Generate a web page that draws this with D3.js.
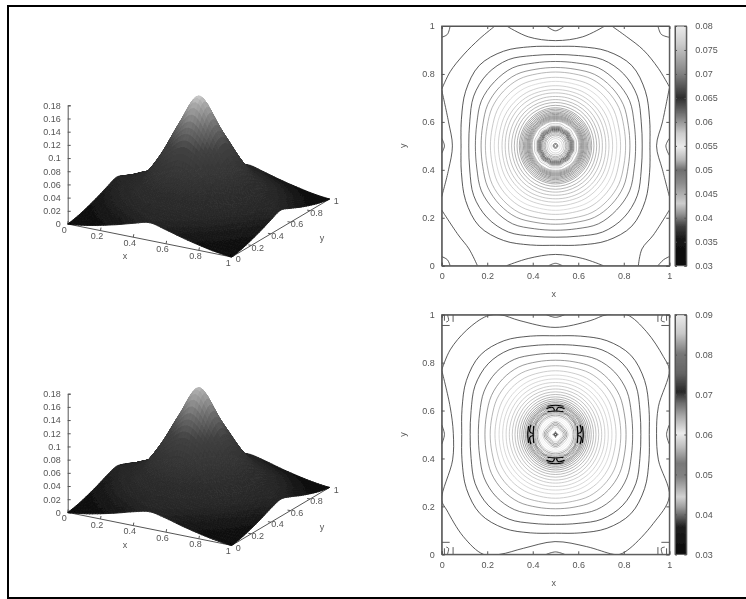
<!DOCTYPE html>
<meta charset="utf-8">
<style>
html, body { margin: 0; background: #fff; }
text { font: 9px "Liberation Sans", Arial, sans-serif; fill: #555; }
.domain, .tick line, .box { stroke: #555; fill: none; }
</style>
<body>
<script src="https://d3js.org/d3.v7.min.js"></script>
<script>

// quarter of the height field, rows y = 0..0.5, columns x = 0..0.5, step 0.1
var surfaceTop = [
  [0,     0.003, 0.008, 0.014, 0.021, 0.027],
  [0.003, 0.009, 0.017, 0.024, 0.031, 0.034],
  [0.008, 0.017, 0.026, 0.035, 0.043, 0.048],
  [0.014, 0.024, 0.035, 0.054, 0.074, 0.085],
  [0.021, 0.031, 0.043, 0.074, 0.112, 0.135],
  [0.027, 0.034, 0.048, 0.085, 0.135, 0.175]
];
var surfaceBottom = [
  [0,     0.003, 0.008, 0.014, 0.021, 0.026],
  [0.003, 0.009, 0.017, 0.024, 0.030, 0.033],
  [0.008, 0.017, 0.026, 0.034, 0.042, 0.047],
  [0.014, 0.024, 0.034, 0.053, 0.072, 0.083],
  [0.021, 0.030, 0.042, 0.072, 0.108, 0.130],
  [0.026, 0.033, 0.047, 0.083, 0.130, 0.170]
];
var surfaceGray = [[0, 8], [0.03, 40], [0.06, 48], [0.105, 65], [0.135, 110], [0.165, 170], [0.175, 205]];

var unitTicks = [0, 0.2, 0.4, 0.6, 0.8, 1];
var zTicks = [0, 0.02, 0.04, 0.06, 0.08, 0.1, 0.12, 0.14, 0.16, 0.18];
var barTicksTop = [0.03, 0.035, 0.04, 0.045, 0.05, 0.055, 0.06, 0.065, 0.07, 0.075, 0.08];
var barTicksBottom = [0.03, 0.04, 0.05, 0.06, 0.07, 0.08, 0.09];

// colour bars: value, gray
var barStopsTop = [[0.03, 10], [0.0353, 20], [0.0381, 60], [0.0409, 150], [0.043, 205], [0.0472, 140],
  [0.05, 110], [0.052, 180], [0.0548, 235], [0.0576, 205], [0.0618, 110], [0.065, 45], [0.0701, 130],
  [0.0764, 205], [0.08, 235]];
var barStopsBottom = [[0.03, 10], [0.0369, 30], [0.0419, 160], [0.0444, 210], [0.0494, 130], [0.0528, 120],
  [0.0569, 190], [0.0603, 235], [0.0645, 170], [0.0678, 110], [0.0707, 40], [0.0753, 100], [0.0803, 120],
  [0.0853, 200], [0.09, 235]];

// closed contours around the centre: level, radius at 0, 15, 30, 45 degrees
var ringsTop = [
  [0.034, 0.415, 0.428, 0.456, 0.474], [0.036, 0.381, 0.390, 0.415, 0.424],
  [0.038, 0.352, 0.358, 0.376, 0.379], [0.0395, 0.327, 0.331, 0.344, 0.347],
  [0.041, 0.308, 0.311, 0.321, 0.323], [0.042, 0.286, 0.288, 0.296, 0.298],
  [0.043, 0.269, 0.270, 0.276, 0.278], [0.044, 0.251, 0.252, 0.256, 0.257],
  [0.0445, 0.235, 0.236, 0.239, 0.240], [0.045, 0.221, 0.222, 0.224, 0.225],
  [0.0455, 0.206, 0.207, 0.208, 0.209], [0.046, 0.193, 0.193, 0.194, 0.195],
  [0.0465, 0.181, 0.181, 0.182, 0.182], [0.047, 0.169, 0.169, 0.169, 0.170],
  [0.0475, 0.159, 0.159, 0.159, 0.159], [0.048, 0.153, 0.153, 0.153, 0.153],
  [0.0485, 0.147, 0.147, 0.147, 0.147], [0.049, 0.141, 0.141, 0.141, 0.141],
  [0.0495, 0.136, 0.136, 0.136, 0.136], [0.05, 0.131, 0.131, 0.131, 0.131],
  [0.05, 0.126, 0.126, 0.126, 0.126], [0.05, 0.122, 0.122, 0.122, 0.122],
  [0.05, 0.118, 0.118, 0.118, 0.118], [0.05, 0.114, 0.114, 0.114, 0.114],
  [0.0505, 0.110, 0.110, 0.110, 0.110], [0.051, 0.106, 0.106, 0.106, 0.106],
  [0.0515, 0.102, 0.103, 0.102, 0.103], [0.052, 0.092, 0.094, 0.090, 0.094],
  [0.0576, 0.085, 0.087, 0.083, 0.087], [0.0618, 0.080, 0.082, 0.078, 0.082],
  [0.063, 0.076, 0.078, 0.074, 0.078], [0.064, 0.072, 0.074, 0.070, 0.074],
  [0.065, 0.068, 0.070, 0.066, 0.070], [0.066, 0.064, 0.066, 0.062, 0.066],
  [0.068, 0.060, 0.061, 0.059, 0.061], [0.07, 0.055, 0.056, 0.054, 0.056],
  [0.071, 0.050, 0.050, 0.049, 0.050], [0.072, 0.045, 0.045, 0.045, 0.045],
  [0.074, 0.038, 0.038, 0.038, 0.038], [0.076, 0.030, 0.030, 0.030, 0.030],
  [0.078, 0.020, 0.020, 0.020, 0.020], [0.066, 0.010, 0.010, 0.010, 0.010],
  [0.064, 0.006, 0.006, 0.006, 0.006]
];
var ringsBottom = [
  [0.034, 0.412, 0.425, 0.452, 0.468], [0.036, 0.375, 0.384, 0.408, 0.418],
  [0.038, 0.339, 0.345, 0.362, 0.368], [0.04, 0.310, 0.314, 0.325, 0.328],
  [0.0415, 0.287, 0.289, 0.297, 0.299], [0.043, 0.266, 0.267, 0.272, 0.274],
  [0.044, 0.248, 0.249, 0.252, 0.253], [0.045, 0.232, 0.233, 0.235, 0.236],
  [0.0455, 0.217, 0.218, 0.219, 0.220], [0.046, 0.203, 0.203, 0.204, 0.205],
  [0.0465, 0.190, 0.190, 0.191, 0.191], [0.047, 0.178, 0.178, 0.178, 0.179],
  [0.0475, 0.167, 0.167, 0.167, 0.167], [0.048, 0.157, 0.157, 0.157, 0.157],
  [0.049, 0.148, 0.148, 0.148, 0.148], [0.05, 0.140, 0.140, 0.140, 0.140],
  [0.051, 0.133, 0.133, 0.133, 0.133], [0.052, 0.127, 0.127, 0.127, 0.127],
  [0.0528, 0.122, 0.122, 0.122, 0.122], [0.0528, 0.118, 0.118, 0.118, 0.118],
  [0.0528, 0.114, 0.114, 0.114, 0.114], [0.0675, 0.110, 0.111, 0.107, 0.109],
  [0.0494, 0.105, 0.106, 0.102, 0.105], [0.0678, 0.101, 0.099, 0.097, 0.100],
  [0.0528, 0.097, 0.095, 0.099, 0.095], [0.0494, 0.092, 0.090, 0.094, 0.091],
  [0.0645, 0.087, 0.086, 0.087, 0.086], [0.0528, 0.081, 0.081, 0.081, 0.081],
  [0.0569, 0.075, 0.075, 0.075, 0.075], [0.0603, 0.069, 0.068, 0.067, 0.066],
  [0.0603, 0.063, 0.062, 0.060, 0.058], [0.0569, 0.056, 0.054, 0.052, 0.050],
  [0.0528, 0.050, 0.048, 0.045, 0.043], [0.0494, 0.044, 0.042, 0.040, 0.038],
  [0.0528, 0.038, 0.036, 0.033, 0.032], [0.0569, 0.031, 0.030, 0.028, 0.027],
  [0.0603, 0.024, 0.024, 0.023, 0.022], [0.0707, 0.012, 0.008, 0.006, 0.005],
  [0.0707, 0.006, 0.004, 0.003, 0.003]
];

// contours that end on the box, as x,y pairs
var openTop = [
  [[0, 0.736], [0.037, 0.809], [0.095, 0.879], [0.168, 0.948], [0.234, 1]],
  [[1, 0.747], [0.952, 0.823], [0.886, 0.9], [0.813, 0.955], [0.747, 1]],
  [[0, 0.232], [0.073, 0.128], [0.12, 0.07], [0.157, 0]],
  [[1, 0.232], [0.93, 0.128], [0.88, 0.07], [0.864, 0]],
  [[0.285, 1], [0.38, 0.955], [0.5, 0.939], [0.62, 0.955], [0.717, 1]],
  [[0.285, 0], [0.38, 0.03], [0.5, 0.047], [0.62, 0.03], [0.71, 0]],
  [[0, 0.733], [0.03, 0.6], [0.047, 0.5], [0.03, 0.4], [0, 0.288]],
  [[1, 0.74], [0.97, 0.6], [0.944, 0.5], [0.97, 0.4], [1, 0.29]],
  [[0, 0.531], [0.012, 0.5], [0, 0.469]],
  [[1, 0.531], [0.985, 0.5], [1, 0.46]],
  [[0.46, 1], [0.5, 0.98], [0.54, 1]],
  [[0.47, 0], [0.5, 0.01], [0.53, 0]],
  [[0, 0.953], [0.025, 0.965], [0.037, 1]],
  [[0.95, 1], [0.965, 0.965], [1, 0.953]],
  [[0, 0.038], [0.025, 0.025], [0.037, 0]],
  [[0.95, 0], [0.975, 0.025], [1, 0.038]]
];
var openBottom = [
  [[0, 0.769], [0.037, 0.853], [0.11, 0.936], [0.198, 0.994], [0.256, 1], [0.344, 0.975], [0.498, 0.947],
   [0.652, 0.975], [0.725, 1], [0.813, 1], [0.9, 0.929], [0.974, 0.825], [1, 0.769], [0.952, 0.616],
   [0.944, 0.505], [0.952, 0.394], [1, 0.241], [0.93, 0.129], [0.827, 0.025], [0.783, 0], [0.754, 0],
   [0.637, 0.032], [0.498, 0.053], [0.359, 0.025], [0.256, 0], [0.183, 0], [0.095, 0.074], [0.022, 0.185],
   [0, 0.227], [0.048, 0.394], [0.051, 0.505], [0.037, 0.616], [0, 0.769]],
  [[0, 0.54], [0.012, 0.5], [0, 0.46]],
  [[1, 0.54], [0.988, 0.5], [1, 0.46]],
  [[0.46, 1], [0.5, 0.989], [0.54, 1]],
  [[0.46, 0], [0.5, 0.01], [0.54, 0]],
  [[0.012, 1], [0.012, 0.975]], [[0.025, 1], [0.03, 0.975], [0.02, 0.97]], [[0.05, 1], [0.05, 0.97]], [[0, 0.955], [0.035, 0.955]],
  [[0.988, 1], [0.988, 0.975]], [[0.97, 1], [0.965, 0.975], [0.98, 0.97]], [[0.95, 1], [0.95, 0.97]], [[1, 0.955], [0.965, 0.955]],
  [[0.012, 0], [0.012, 0.025]], [[0.025, 0], [0.03, 0.025], [0.02, 0.03]], [[0.05, 0], [0.05, 0.03]], [[0, 0.05], [0.035, 0.05]],
  [[0.988, 0], [0.988, 0.025]], [[0.97, 0], [0.965, 0.025], [0.98, 0.03]], [[0.95, 0], [0.95, 0.03]], [[1, 0.05], [0.965, 0.05]]
];

// dark lobes of the lower map, offsets from the centre along one arm
var lobeLines = [
  [[-0.118, -0.035], [-0.122, 0], [-0.118, 0.035]],
  [[-0.108, -0.04], [-0.113, -0.012], [-0.1, -0.004]],
  [[-0.108, 0.04], [-0.113, 0.012], [-0.1, 0.004]],
  [[-0.096, -0.035], [-0.098, 0], [-0.096, 0.035]]
];

var svg = d3.select("body").append("svg")
    .attr("width", 746)
    .attr("height", 599)
    .style("display", "block");

var soft = svg.append("defs").append("filter").attr("id", "soft")
    .attr("filterUnits", "userSpaceOnUse")
    .attr("x", 0).attr("y", 0).attr("width", 746).attr("height", 599);
soft.append("feGaussianBlur").attr("stdDeviation", 0.6);

var root = svg.append("g").attr("filter", "url(#soft)");

// frame of the page
root.append("path")
    .attr("d", d3.line()([[8, 599], [8, 6], [746, 6]]))
    .attr("fill", "none").attr("stroke", "#000").attr("stroke-width", 2);
root.append("path")
    .attr("d", d3.line()([[8, 598], [746, 598]]))
    .attr("fill", "none").attr("stroke", "#000").attr("stroke-width", 2);

function grayOf(stops) {
  var s = d3.scaleLinear().domain(stops.map(d => d[0])).range(stops.map(d => d[1])).clamp(true);
  return function(v) { var g = Math.round(s(v)); return d3.rgb(g, g, g).formatHex(); };
}

// mirror the quarter grid to the full grid
function fullGrid(q) {
  var rows = q.map(r => r.concat(r.slice(0, -1).reverse()));
  return rows.concat(rows.slice(0, -1).reverse());
}

function catmull(a, b, c, d, t) {
  return 0.5 * (2 * b + (c - a) * t + (2 * a - 5 * b + 4 * c - d) * t * t + (3 * b - a - 3 * c + d) * t * t * t);
}

// smooth reading between grid nodes, only for drawing
function heightAt(g, x, y) {
  var n = g.length - 1, u = x * n, v = y * n,
      i = Math.min(Math.floor(u), n - 1), j = Math.min(Math.floor(v), n - 1),
      at = (a, b) => g[Math.max(0, Math.min(n, b))][Math.max(0, Math.min(n, a))],
      row = b => catmull(at(i - 1, b), at(i, b), at(i + 1, b), at(i + 2, b), u - i);
  return catmull(row(j - 1), row(j), row(j + 1), row(j + 2), v - j);
}

function drawSurface(grid, dy) {
  var g = root.append("g").attr("transform", "translate(0," + dy + ")"),
      full = fullGrid(grid),
      color = grayOf(surfaceGray),
      xToX = d3.scaleLinear().domain([0, 1]).range([0, 164]),
      xToY = d3.scaleLinear().domain([0, 1]).range([0, 33]),
      yToX = d3.scaleLinear().domain([0, 1]).range([0, 98]),
      yToY = d3.scaleLinear().domain([0, 1]).range([0, -58]),
      zScale = d3.scaleLinear().domain([0, 0.18]).range([224, 105.3]),
      px = (x, y) => 67.7 + xToX(x) + yToX(y),
      py = (x, y, z) => zScale(z) + xToY(x) + yToY(y);

  g.append("g").attr("transform", "translate(67.7,0)")
      .call(d3.axisLeft(zScale).tickValues(zTicks).tickSize(-3).tickPadding(7).tickFormat(d3.format("~g")));

  g.append("path").attr("class", "box")
      .attr("d", d3.line()([[px(0, 0), py(0, 0, 0)], [px(1, 0), py(1, 0, 0)], [px(1, 1), py(1, 1, 0)]]));

  unitTicks.forEach(function(t) {
    g.append("path").attr("class", "box")
        .attr("d", d3.line()([[px(t, 0), py(t, 0, 0)], [px(t, 0) + 0.5, py(t, 0, 0) - 3]]));
    g.append("path").attr("class", "box")
        .attr("d", d3.line()([[px(1, t), py(1, t, 0)], [px(1, t) - 3, py(1, t, 0) - 0.5]]));
    g.append("text").attr("x", px(t, 0) - 3.5).attr("y", py(t, 0, 0) + 5.5).attr("dy", "0.35em")
        .attr("text-anchor", "middle").text(d3.format("~g")(t));
    g.append("text").attr("x", px(1, t) + 6.5).attr("y", py(1, t, 0) + 2).attr("dy", "0.35em")
        .attr("text-anchor", "middle").text(d3.format("~g")(t));
  });
  g.append("text").attr("x", 125).attr("y", 256).attr("dy", "0.35em").attr("text-anchor", "middle").text("x");
  g.append("text").attr("x", 322).attr("y", 238).attr("dy", "0.35em").attr("text-anchor", "middle").text("y");

  // painter's order, back corner first
  var n = 60, steps = d3.range(0, n + 1).map(d => d / n), cells = [];
  for (var j = n - 1; j >= 0; j--) {
    for (var i = 0; i < n; i++) cells.push([i, j]);
  }
  g.append("g").selectAll("path").data(cells).join("path")
      .each(function(c) {
        var x0 = steps[c[0]], x1 = steps[c[0] + 1], y0 = steps[c[1]], y1 = steps[c[1] + 1],
            z00 = heightAt(full, x0, y0), z10 = heightAt(full, x1, y0),
            z11 = heightAt(full, x1, y1), z01 = heightAt(full, x0, y1),
            col = color((z00 + z10 + z11 + z01) / 4);
        d3.select(this)
            .attr("d", d3.line()([[px(x0, y0), py(x0, y0, z00)], [px(x1, y0), py(x1, y0, z10)],
                                  [px(x1, y1), py(x1, y1, z11)], [px(x0, y1), py(x0, y1, z01)]]) + "Z")
            .attr("fill", col).attr("stroke", col).attr("stroke-width", 0.9);
      });
}

function drawContour(o) {
  var x = d3.scaleLinear().domain([0, 1]).range([441.7, 669.3]),
      y = d3.scaleLinear().domain([0, 1]).range([o.bottom, o.top]),
      bar = d3.scaleLinear().domain(o.barDomain).range([o.bottom, o.top]),
      color = grayOf(o.barStops),
      fmt = d3.format("~g"),
      g = root.append("g"),
      line = d3.line().x(d => x(d[0])).y(d => y(d[1])),
      clipId = "clip" + o.top;

  g.append("clipPath").attr("id", clipId).append("rect")
      .attr("x", x(0)).attr("y", o.top).attr("width", x(1) - x(0)).attr("height", o.bottom - o.top);

  var lines = g.append("g").attr("clip-path", "url(#" + clipId + ")")
      .attr("fill", "none").attr("stroke-width", 1);

  lines.selectAll(".ring").data(o.rings).join("path")
      .attr("class", "ring")
      .attr("stroke", d => color(d[0]))
      .attr("stroke-opacity", 0.7)
      .attr("d", function(d) {
        var pts = d3.range(24).map(function(k) {
          var m = k % 6, r = d[1 + (m <= 3 ? m : 6 - m)], a = k * Math.PI / 12;
          return [0.5 + r * Math.cos(a), 0.5 + r * Math.sin(a)];
        });
        return line.curve(d3.curveCatmullRomClosed)(pts);
      });

  lines.selectAll(".open").data(o.open).join("path")
      .attr("class", "open")
      .attr("stroke", "#333")
      .attr("stroke-opacity", 0.8)
      .attr("d", d => line.curve(d3.curveCatmullRom)(d));

  if (o.lobes) {
    [[1, 0, 0, 1], [-1, 0, 0, 1], [0, 1, 1, 0], [0, 1, -1, 0]].forEach(function(m) {
      o.lobes.forEach(function(l) {
        lines.append("path").attr("stroke", "#000").attr("stroke-width", 1.2)
            .attr("d", line.curve(d3.curveCatmullRom)(l.map(p => [0.5 + m[0] * p[0] + m[1] * p[1], 0.5 + m[2] * p[0] + m[3] * p[1]])));
      });
    });
  }

  g.append("rect").attr("class", "box")
      .attr("x", x(0)).attr("y", o.top).attr("width", x(1) - x(0)).attr("height", o.bottom - o.top);

  g.append("g").attr("transform", "translate(0," + o.bottom + ")")
      .call(d3.axisBottom(x).tickValues(unitTicks).tickSize(-3).tickPadding(7).tickFormat(fmt));
  g.append("g").attr("transform", "translate(0," + o.top + ")")
      .call(d3.axisTop(x).tickValues(unitTicks).tickSize(-3).tickFormat(""));
  g.append("g").attr("transform", "translate(441.7,0)")
      .call(d3.axisLeft(y).tickValues(unitTicks).tickSize(-3).tickPadding(7).tickFormat(fmt));
  g.append("g").attr("transform", "translate(669.3,0)")
      .call(d3.axisRight(y).tickValues(unitTicks).tickSize(-3).tickFormat(""));

  g.append("text").attr("x", 553.7).attr("y", o.bottom + 28.5).attr("dy", "0.35em")
      .attr("text-anchor", "middle").text("x");
  g.append("text").attr("transform", "translate(403," + (o.top + o.bottom) / 2 + ")rotate(-90)").attr("dy", "0.35em")
      .attr("text-anchor", "middle").text("y");

  // colour bar
  var gradId = "bar" + o.top,
      grad = g.append("linearGradient").attr("id", gradId).attr("x1", 0).attr("x2", 0).attr("y1", 1).attr("y2", 0),
      offset = d3.scaleLinear().domain(o.barDomain).range([0, 1]);
  grad.selectAll("stop").data(o.barStops).join("stop")
      .attr("offset", d => offset(d[0]))
      .attr("stop-color", d => color(d[0]));
  g.append("rect").attr("x", 675).attr("y", o.top).attr("width", 11.3).attr("height", o.bottom - o.top)
      .attr("fill", "url(#" + gradId + ")").attr("stroke", "#555");
  g.append("g").attr("transform", "translate(686.3,0)")
      .call(d3.axisRight(bar).tickValues(o.barTicks).tickSize(-2).tickPadding(9).tickFormat(fmt));
  g.append("g").attr("transform", "translate(675,0)")
      .call(d3.axisLeft(bar).tickValues(o.barTicks).tickSize(-2).tickFormat(""));
}

drawSurface(surfaceTop, 0);
drawSurface(surfaceBottom, 288.4);

drawContour({top: 26, bottom: 265.7, barDomain: [0.03, 0.08], barStops: barStopsTop, barTicks: barTicksTop,
  rings: ringsTop, open: openTop});
drawContour({top: 314.7, bottom: 554.3, barDomain: [0.03, 0.09], barStops: barStopsBottom, barTicks: barTicksBottom,
  rings: ringsBottom, open: openBottom, lobes: lobeLines});

</script>
